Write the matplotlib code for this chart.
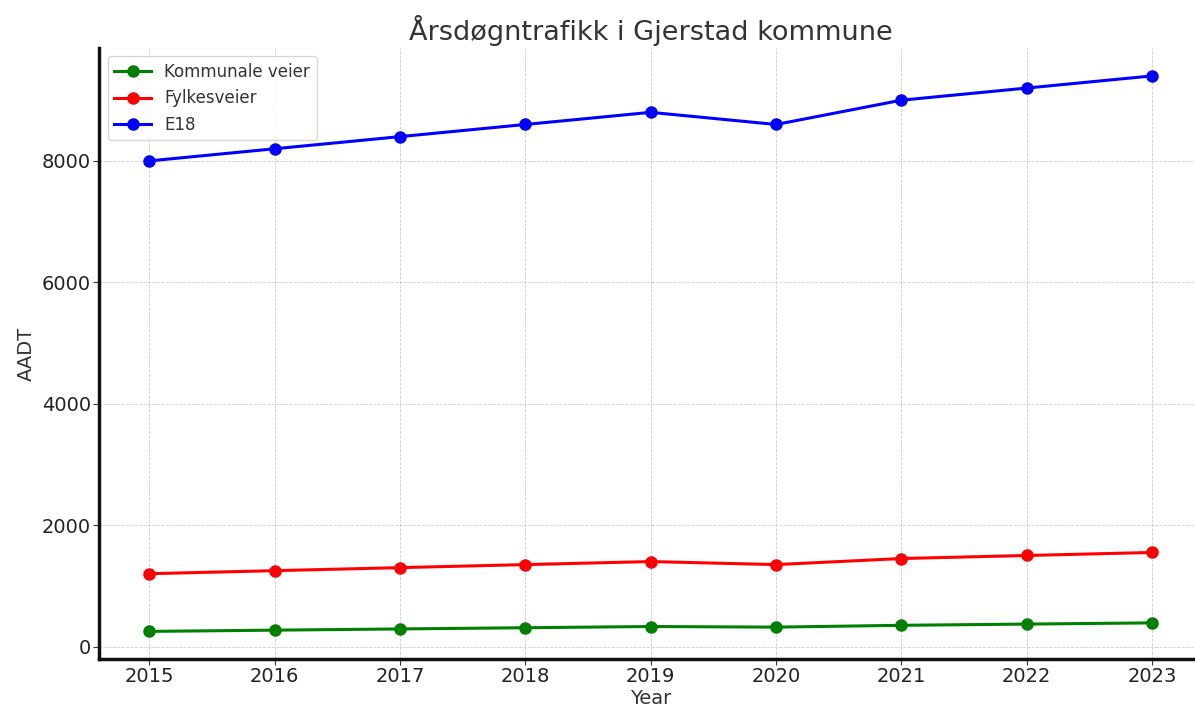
import matplotlib
matplotlib.use("Agg")
import matplotlib.pyplot as plt

years = [2015, 2016, 2017, 2018, 2019, 2020, 2021, 2022, 2023]
kommunale = [250, 270, 290, 310, 330, 320, 350, 370, 390]
fylkesveier = [1200, 1250, 1300, 1350, 1400, 1350, 1450, 1500, 1550]
e18 = [8000, 8200, 8400, 8600, 8800, 8600, 9000, 9200, 9400]

series = [
    ("Kommunale veier", kommunale, "green"),
    ("Fylkesveier", fylkesveier, "red"),
    ("E18", e18, "blue"),
]

text_color = "#333333"
plt.rcParams["font.family"] = "DejaVu Sans"

fig = plt.figure(figsize=(11.95, 7.08), dpi=100)
# the original image is cropped on the right, so the axes run past the edge
ax = fig.add_axes([0.083, 0.069, 0.923, 0.863])

for label, values, color in series:
    ax.plot(years, values, marker="o", color=color, linewidth=2.2,
            markersize=8, label=label)

ax.set_title("Årsdøgntrafikk i Gjerstad kommune", fontsize=19.5, color=text_color)
ax.set_xlabel("Year", fontsize=14, color=text_color, labelpad=2)
ax.set_ylabel("AADT", fontsize=14, color=text_color)
ax.set_xticks(years)
ax.set_yticks([0, 2000, 4000, 6000, 8000])
ax.tick_params(axis="both", labelsize=14, labelcolor="#222222", color="#333333",
               length=4, pad=2)
ax.grid(True, linestyle="--", linewidth=0.6, color="#cccccc")

for side in ("top", "right"):
    ax.spines[side].set_visible(False)
for side in ("left", "bottom"):
    ax.spines[side].set_linewidth(2.5)
    ax.spines[side].set_color("#111111")

leg = ax.legend(loc="upper left", fontsize=12, frameon=True, handlelength=2.2)
for t in leg.get_texts():
    t.set_color(text_color)

fig.savefig("out.png", dpi=100)
